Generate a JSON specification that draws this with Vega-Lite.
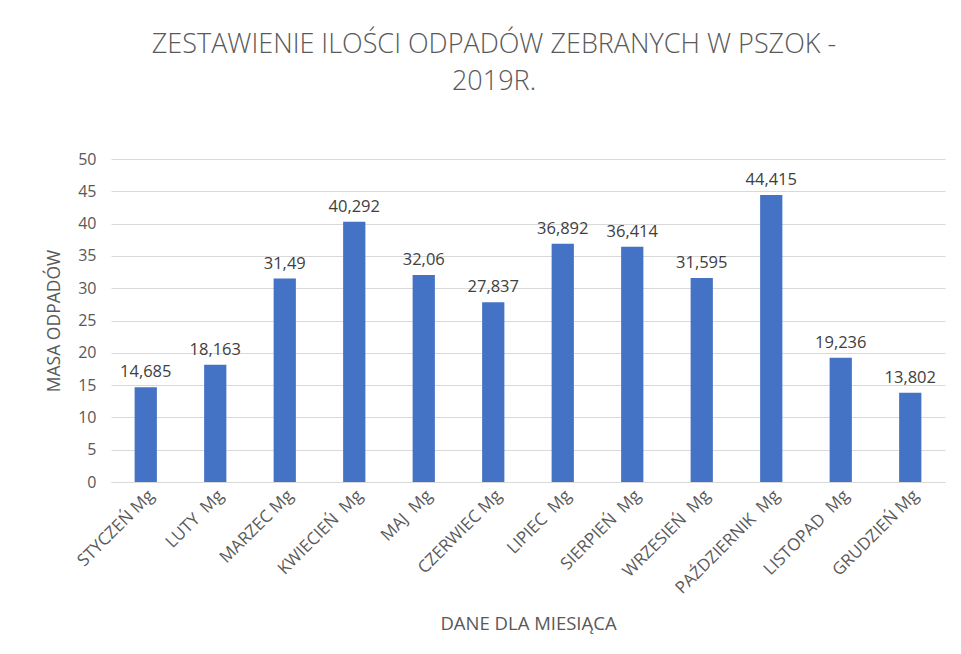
{
  "$schema": "https://vega.github.io/schema/vega-lite/v6.json",
  "autosize": "none",
  "width": 834,
  "height": 323,
  "padding": {"left": 111, "top": 159, "right": 16, "bottom": 172},
  "background": "white",
  "title": {
    "text": ["ZESTAWIENIE ILOŚCI ODPADÓW ZEBRANYCH W PSZOK -", "2019R."],
    "font": "Open Sans",
    "fontWeight": 300,
    "fontSize": 27,
    "color": "#595959",
    "lineHeight": 37,
    "anchor": "middle",
    "dx": -34,
    "offset": 55
  },
  "data": {
    "values": [
      {"miesiac": "STYCZEŃ Mg", "masa": 14.685},
      {"miesiac": "LUTY\u00a0 Mg", "masa": 18.163},
      {"miesiac": "MARZEC Mg", "masa": 31.49},
      {"miesiac": "KWIECIEŃ\u00a0 Mg", "masa": 40.292},
      {"miesiac": "MAJ\u00a0 Mg", "masa": 32.06},
      {"miesiac": "CZERWIEC Mg", "masa": 27.837},
      {"miesiac": "LIPIEC\u00a0 Mg", "masa": 36.892},
      {"miesiac": "SIERPIEŃ\u00a0 Mg", "masa": 36.414},
      {"miesiac": "WRZESIEŃ\u00a0 Mg", "masa": 31.595},
      {"miesiac": "PAŹDZIERNIK\u00a0 Mg", "masa": 44.415},
      {"miesiac": "LISTOPAD\u00a0 Mg", "masa": 19.236},
      {"miesiac": "GRUDZIEŃ Mg", "masa": 13.802}
    ]
  },
  "encoding": {
    "x": {
      "field": "miesiac",
      "type": "nominal",
      "sort": null,
      "scale": {"paddingInner": 0.68, "paddingOuter": 0.34},
      "axis": {
        "title": "DANE DLA MIESIĄCA",
        "titleFont": "Open Sans",
        "titleFontWeight": "normal",
        "titleFontSize": 18.5,
        "titleColor": "#595959",
        "titlePadding": 18,
        "labelAngle": -45,
        "labelFont": "Open Sans",
        "labelFontSize": 17,
        "labelColor": "#595959",
        "labelPadding": 5,
        "ticks": false,
        "domainColor": "#d9d9d9",
        "domainWidth": 1
      }
    },
    "y": {
      "field": "masa",
      "type": "quantitative",
      "scale": {"domain": [0, 50]},
      "axis": {
        "title": "MASA ODPADÓW",
        "titleFont": "Open Sans",
        "titleFontWeight": "normal",
        "titleFontSize": 17.5,
        "titleColor": "#595959",
        "titlePadding": 14,
        "values": [0, 5, 10, 15, 20, 25, 30, 35, 40, 45, 50],
        "labelFont": "Open Sans",
        "labelFontSize": 16,
        "labelColor": "#595959",
        "labelPadding": 15,
        "ticks": false,
        "domain": false,
        "gridColor": "#d9d9d9",
        "gridWidth": 1
      }
    }
  },
  "layer": [
    {"mark": {"type": "bar", "color": "#4472C4"}},
    {
      "mark": {"type": "text", "baseline": "bottom", "dy": -7, "font": "Open Sans", "fontSize": 16.5, "color": "#404040"},
      "encoding": {"text": {"field": "masa", "type": "quantitative", "format": ".5~g"}}
    }
  ],
  "config": {
    "view": {"stroke": null},
    "locale": {"number": {"decimal": ",", "thousands": " ", "grouping": [3], "currency": ["", " zł"]}}
  }
}
